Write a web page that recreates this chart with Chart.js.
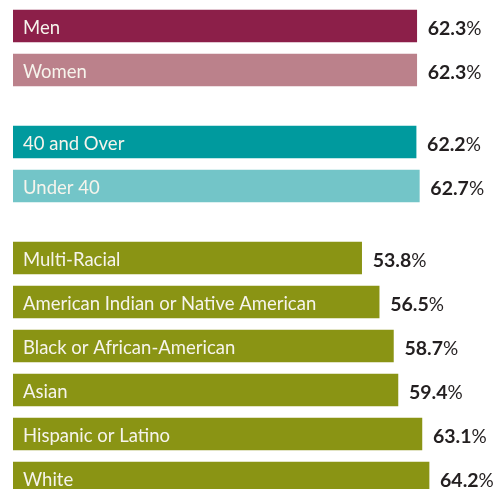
<!DOCTYPE html>
<html>
<head>
<meta charset="utf-8">
<script src="https://cdn.jsdelivr.net/npm/chart.js@4"></script>
<style>
  html, body { margin: 0; padding: 0; background: #fff; overflow: hidden; }
  body { width: 500px; height: 489px; position: relative; }
  .grp { position: absolute; left: 13px; width: 487px; }
</style>
</head>
<body>
<div class="grp" id="g1" style="top:4px;height:88px"><canvas id="c1"></canvas></div>
<div class="grp" id="g2" style="top:120px;height:88px"><canvas id="c2"></canvas></div>
<div class="grp" id="g3" style="top:236px;height:264px"><canvas id="c3"></canvas></div>
<script>
// data
const genderLabels = ['Men', 'Women'];
const genderValues = [62.3, 62.3];
const ageLabels = ['40 and Over', 'Under 40'];
const ageValues = [62.2, 62.7];
const raceLabels = ['Multi-Racial', 'American Indian or Native American', 'Black or African-American', 'Asian', 'Hispanic or Latino', 'White'];
const raceValues = [53.8, 56.5, 58.7, 59.4, 63.1, 64.2];

// colours
const genderColors = ['#8C1F49', '#BB818B'];
const ageColors = ['#009A9E', '#73C5C8'];
const raceColor = '#8A9414';

const xMax = 75.15;

// draws the category name inside the bar and the value after it
const barText = {
    id: 'barText',
    afterDatasetsDraw(chart) {
        const ctx = chart.ctx;
        const meta = chart.getDatasetMeta(0);
        const labels = chart.data.labels;
        const values = chart.data.datasets[0].data;
        ctx.save();
        ctx.textBaseline = 'alphabetic';
        meta.data.forEach((bar, i) => {
            ctx.fillStyle = '#f6f4ec';
            ctx.font = '400 18.5px Lato';
            ctx.textAlign = 'left';
            ctx.fillText(labels[i], bar.base + 10, bar.y + 7.5);

            let num = values[i].toFixed(1);
            let x = bar.x + 11;
            ctx.fillStyle = '#231F20';
            ctx.font = '700 19.5px Lato';
            ctx.fillText(num, x, bar.y + 8.5);
            x += ctx.measureText(num).width;
            ctx.font = '400 19px Lato';
            ctx.fillText('%', x, bar.y + 8.5);
        });
        ctx.restore();
    }
};

function makeChart(id, labels, values, colors)
{
    let canvas = document.getElementById(id);
    let config = {
        type: 'bar',
        data: {
            labels: labels,
            datasets: [{
                data: values,
                backgroundColor: colors,
                barThickness: 32,
                borderWidth: 0
            }]
        },
        options: {
            indexAxis: 'y',
            responsive: true,
            maintainAspectRatio: false,
            animation: false,
            layout: { padding: 0 },
            plugins: {
                legend: { display: false },
                tooltip: { enabled: false }
            },
            scales: {
                x: { display: false, min: 0, max: xMax },
                y: { display: false }
            }
        },
        plugins: [barText]
    };
    return new Chart(canvas, config);
}

makeChart('c1', genderLabels, genderValues, genderColors);
makeChart('c2', ageLabels, ageValues, ageColors);
makeChart('c3', raceLabels, raceValues, raceLabels.map(() => raceColor));
</script>
</body>
</html>
